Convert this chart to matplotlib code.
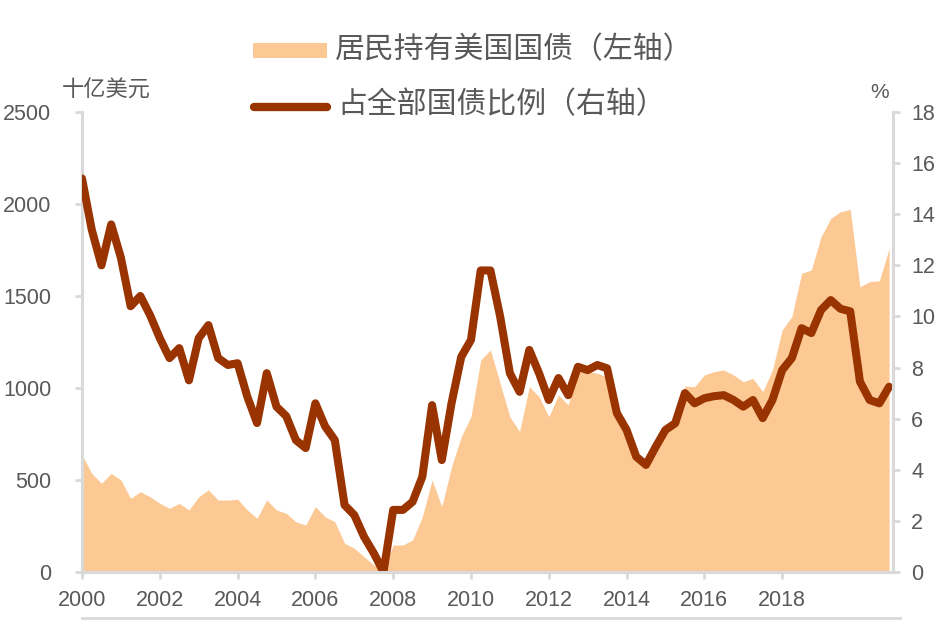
import numpy as np
import pandas as pd
import matplotlib
matplotlib.use('Agg')
import matplotlib.pyplot as plt
from matplotlib.patches import Rectangle
from matplotlib.lines import Line2D

plt.rcParams['font.family'] = ['Liberation Sans', 'Noto Sans CJK SC', 'DejaVu Sans']

# -------------------------------------------------------
# Data: quarterly, 2000Q1 - 2020Q4
# -------------------------------------------------------
quarters = pd.period_range('2000Q1', '2020Q4', freq='Q')

holdings = [636, 536, 482, 536, 500, 400, 436, 409, 373, 346,
            373, 337, 409, 446, 391, 391, 395, 337, 292, 391,
            337, 319, 273, 255, 355, 300, 273, 156, 129, 83,
            38, 11, 147, 147, 174, 300, 500, 355, 572, 735,
            844, 1152, 1207, 1025, 844, 763, 1007, 953, 844, 962,
            908, 1107, 1089, 1080, 1060, 840, 750, 610, 565, 665,
            790, 830, 1010, 1007, 1071, 1089, 1098, 1071, 1034, 1052,
            980, 1098, 1315, 1388, 1623, 1641, 1822, 1922, 1958, 1971,
            1550, 1578, 1583, 1759]

share = [15.4, 13.4, 12.0, 13.6, 12.3, 10.4, 10.8, 10.05, 9.15, 8.37,
         8.76, 7.5, 9.15, 9.66, 8.37, 8.1, 8.17, 6.86, 5.83, 7.78,
         6.47, 6.1, 5.16, 4.85, 6.6, 5.7, 5.16, 2.62, 2.23, 1.38,
         0.74, 0.0, 2.43, 2.43, 2.75, 3.73, 6.53, 4.38, 6.6, 8.42,
         9.08, 11.8, 11.8, 10.0, 7.78, 7.05, 8.69, 7.78, 6.73, 7.59,
         6.92, 8.03, 7.9, 8.1, 7.97, 6.22, 5.56, 4.51, 4.19, 4.9,
         5.56, 5.82, 7.0, 6.6, 6.8, 6.88, 6.92, 6.73, 6.47, 6.73,
         6.02, 6.73, 7.9, 8.37, 9.54, 9.35, 10.25, 10.64, 10.3, 10.2,
         7.45, 6.73, 6.6, 7.25]

year_ticks = [2000, 2002, 2004, 2006, 2008, 2010, 2012, 2014, 2016, 2018]
left_ticks = [0, 500, 1000, 1500, 2000, 2500]
right_ticks = [0, 2, 4, 6, 8, 10, 12, 14, 16, 18]

label_fill = '居民持有美国国债（左轴）'
label_line = '占全部国债比例（右轴）'

# -------------------------------------------------------
# Styling
# -------------------------------------------------------
fill_color = '#FCC995'
line_color = '#993300'
grey = '#D9D9D9'
text_grey = '#595959'
cjk = ['Noto Sans CJK SC', 'DejaVu Sans']

x = quarters.year + (quarters.quarter - 1) / 4.0

fig = plt.figure(figsize=(9.48, 6.33), dpi=100)
W, H = 948, 633
ax = fig.add_axes([82 / W, 1 - 572 / H, (893 - 82) / W, (572 - 112) / H])
ax2 = ax.twinx()

ax.fill_between(x, holdings, 0, color=fill_color, linewidth=0)
ax2.plot(x, share, color=line_color, linewidth=5.8, solid_joinstyle='round',
         solid_capstyle='round')

ax.set_xlim(2000, 2020.85)
ax.set_ylim(0, 2500)
ax2.set_ylim(0, 18)
ax.set_xticks(year_ticks)
ax.set_yticks(left_ticks)
ax2.set_yticks(right_ticks)

for a in (ax, ax2):
    a.spines['top'].set_visible(False)
    for s in ['left', 'right', 'bottom']:
        a.spines[s].set_color(grey)
        a.spines[s].set_linewidth(2.2)
    a.tick_params(colors=grey, width=2, length=5, labelsize=15.5,
                  labelcolor=text_grey)
ax.spines['right'].set_visible(False)
ax2.spines['left'].set_visible(False)
ax.tick_params(axis='x', pad=8)
ax.tick_params(axis='y', pad=17)
ax2.tick_params(axis='y', pad=8)

# axis unit labels
fig.text(62 / W, 1 - 90 / H, '十亿美元', fontsize=16, color=text_grey,
         family=cjk, va='center', ha='left')
fig.text(880 / W, 1 - 93 / H, '%', fontsize=15, color=text_grey,
         va='center', ha='center')

# legend drawn by hand
fig.patches.append(Rectangle((253 / W, 1 - 58 / H), 74 / W, 15 / H,
                             transform=fig.transFigure, color=fill_color,
                             linewidth=0))
fig.text(335 / W, 1 - 50 / H, label_fill, fontsize=21.5, color=text_grey,
         family=cjk, va='center', ha='left')
fig.lines.append(Line2D([254 / W, 327 / W], [1 - 107 / H, 1 - 107 / H],
                        transform=fig.transFigure, color=line_color,
                        linewidth=6, solid_capstyle='round'))
fig.text(337 / W, 1 - 105 / H, label_line, fontsize=21.5, color=text_grey,
         family=cjk, va='center', ha='left')

# bottom border line
fig.lines.append(Line2D([82 / W, 900 / W], [1 - 618 / H, 1 - 618 / H],
                        transform=fig.transFigure, color=grey, linewidth=2))

fig.savefig('out.png', dpi=100)
